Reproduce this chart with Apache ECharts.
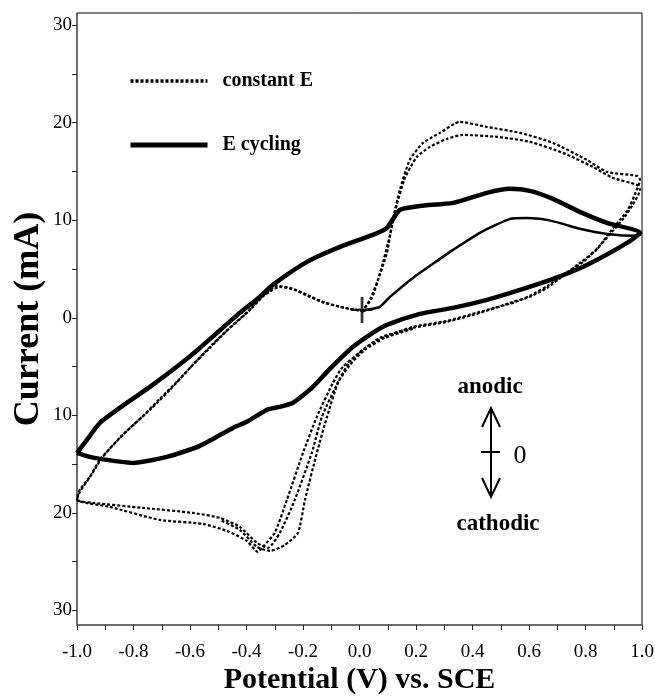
<!DOCTYPE html>
<html>
<head>
<meta charset="utf-8">
<script src="https://cdn.jsdelivr.net/npm/echarts@6/dist/echarts.min.js"></script>
<style>html,body{margin:0;padding:0;background:#fff}#c{width:655px;height:696px}</style>
</head>
<body>
<div id="c"></div>
<script>
// ---- Data (Potential V, Current mA) ----
const xTickLabels = [-1.0, -0.8, -0.6, -0.4, -0.2, 0.0, 0.2, 0.4, 0.6, 0.8, 1.0];
const yTickValues = [-30, -25, -20, -15, -10, -5, 0, 5, 10, 15, 20, 25, 30];
const yLabelValues = [-30, -20, -10, 0, 10, 20, 30];

const constantE_cycle1 = [
  [0.008,0.61],[0.037,1.84],[0.065,3.88],[0.097,6.65],[0.118,10.04],[0.143,13.12],[0.178,16.19],
  [0.225,17.93],[0.285,18.96],[0.355,20.09],[0.451,19.57],[0.568,18.96],[0.685,17.93],[0.805,16.19],
  [0.876,14.96],[0.982,14.55],[0.993,14.14],[0.974,12.60],[0.950,11.06],[0.922,10.04],[0.887,8.81],
  [0.839,6.96],[0.780,5.63],[0.720,4.30],[0.664,3.07],[0.603,2.15],[0.543,1.63],[0.426,0.50],
  [0.309,-0.42],[0.189,-1.04],[0.072,-2.06],[-0.009,-3.80],[-0.059,-5.03],[-0.094,-6.67],
  [-0.151,-10.16],[-0.200,-13.85],[-0.257,-18.67],[-0.300,-22.05],[-0.342,-23.49],[-0.360,-24.00],
  [-0.399,-22.88],[-0.470,-21.85],[-0.555,-21.13],[-0.707,-20.72],[-0.884,-19.39],[-1.000,-18.67],
  [-0.990,-17.64],[-0.955,-16.31],[-0.919,-14.57],[-0.849,-12.31],[-0.766,-10.06],[-0.707,-8.31],
  [-0.643,-6.47],[-0.590,-4.83],[-0.530,-3.09],[-0.470,-1.34],[-0.399,0.50],[-0.346,2.15],
  [-0.292,3.27],[-0.246,3.07],[-0.186,2.35],[-0.130,1.63],[-0.069,1.12],[-0.034,0.91],[0.008,0.71]
];
const constantE_cycle2 = [
  [0.008,0.61],[0.044,2.04],[0.076,4.91],[0.108,8.50],[0.132,11.58],[0.161,14.34],[0.203,16.50],
  [0.249,17.52],[0.309,18.34],[0.366,18.75],[0.487,18.55],[0.603,18.04],[0.720,16.91],[0.826,15.47],
  [0.897,14.34],[0.982,13.63],[0.993,13.12],[0.967,11.58],[0.936,10.24],[0.894,8.81],[0.843,7.16],
  [0.792,5.73],[0.727,4.50],[0.665,3.27],[0.603,2.25],[0.543,1.53],[0.426,0.61],[0.309,-0.32],
  [0.189,-0.93],[0.090,-1.96],[0.019,-3.09],[-0.034,-4.52],[-0.069,-6.17],[-0.133,-10.16],
  [-0.169,-13.85],[-0.229,-18.67],[-0.282,-22.05],[-0.324,-23.59],[-0.363,-23.08],[-0.424,-21.44],
  [-0.494,-20.52],[-0.590,-20.01],[-0.766,-19.49],[-0.944,-18.98],[-1.000,-18.67],
  [-0.990,-17.85],[-0.947,-16.01],[-0.909,-14.26],[-0.831,-11.80],[-0.742,-9.44],[-0.671,-7.39],
  [-0.600,-5.14],[-0.519,-2.68],[-0.448,-0.73],[-0.388,0.81],[-0.335,2.35],[-0.282,3.17],
  [-0.229,2.86],[-0.176,2.15],[-0.123,1.53],[-0.052,1.02],[0.008,0.71]
];
const constantE_cycle3 = [
  [0.189,-1.14],[0.090,-2.06],[0.019,-3.29],[-0.034,-4.83],[-0.076,-6.67],[-0.115,-10.16],
  [-0.151,-13.85],[-0.193,-18.67],[-0.218,-22.05],[-0.264,-23.29],[-0.317,-23.90],[-0.363,-23.49],
  [-0.424,-21.74],[-0.494,-20.72]
];
const eCycling_steady = [
  [-1.000,-13.85],[-0.965,-12.52],[-0.919,-10.78],[-0.824,-8.73],[-0.742,-7.09],[-0.647,-5.03],
  [-0.565,-3.09],[-0.424,0.50],[-0.353,2.14],[-0.307,3.37],[-0.186,5.73],[-0.069,7.27],[0.047,8.50],
  [0.097,9.22],[0.143,11.06],[0.214,11.47],[0.331,11.78],[0.451,12.81],[0.533,13.22],[0.603,13.01],
  [0.685,12.19],[0.780,10.86],[0.876,9.73],[0.993,8.71],
  [0.947,7.68],[0.805,5.42],[0.685,3.99],[0.568,2.86],[0.451,1.84],[0.331,1.02],[0.214,0.40],
  [0.097,-0.73],[0.047,-1.55],[-0.023,-2.98],[-0.069,-4.21],[-0.105,-5.24],[-0.165,-7.09],
  [-0.211,-8.21],[-0.236,-8.73],[-0.282,-9.14],[-0.328,-9.44],[-0.399,-10.67],[-0.448,-11.29],
  [-0.565,-13.13],[-0.682,-14.26],[-0.802,-14.88],[-0.894,-14.57],[-0.955,-14.26],[-1.000,-13.85]
];
const eCycling_first = [
  [0.008,0.61],[0.026,0.81],[0.072,1.12],[0.108,2.14],[0.189,4.09],[0.285,6.04],[0.331,6.96],
  [0.426,8.71],[0.533,10.14],[0.593,10.24],[0.664,10.04],[0.720,9.63],[0.780,9.12],[0.876,8.60],
  [0.982,8.40],[0.997,8.60]
];
const startPoint = [[0.008,0.81]];

const serif = '"Liberation Serif","Times New Roman",serif';
const dotted = {color:'#000', width:2.2, type:[3,2]};

const chart = echarts.init(document.getElementById('c'), null, {renderer:'canvas'});
chart.setOption({
  animation:false,
  backgroundColor:'#fff',
  grid:{left:77, right:13, top:13, bottom:71, show:true, borderColor:'#000', borderWidth:1,
        containLabel:false, outerBoundsMode:'none'},
  legend:{
    orient:'vertical', left:123, top:66, itemWidth:77, itemHeight:20, itemGap:44,
    itemStyle:{opacity:0, borderWidth:0},
    textStyle:{fontFamily:serif, fontWeight:'bold', fontSize:20, color:'#000', padding:[0,0,0,10]},
    data:[
      {name:'constant E', lineStyle:{width:3.5}},
      {name:'E cycling', lineStyle:{width:5}}
    ],
    selectedMode:false
  },
  xAxis:{
    type:'value', min:-1, max:1, interval:0.2,
    axisLine:{show:true, onZero:false, lineStyle:{color:'#666', width:1.5}},
    axisTick:{show:true, length:5, lineStyle:{color:'#222'}},
    minorTick:{show:true, splitNumber:2, length:5, lineStyle:{color:'#222'}},
    splitLine:{show:false},
    axisLabel:{fontFamily:serif, fontSize:19, color:'#000', margin:18,
      formatter:v=>{ const m = xTickLabels.find(t=>Math.abs(t-v)<1e-6); return (m===undefined? v : m).toFixed(1);} },
    name:'Potential (V) vs. SCE', nameLocation:'middle', nameGap:40, nameMoveOverlap:false,
    nameTextStyle:{fontFamily:serif, fontWeight:'bold', fontSize:30, color:'#000'}
  },
  yAxis:{
    type:'value', min:-31.5, max:31.25,
    axisLine:{show:true, onZero:false, lineStyle:{color:'#666', width:1.5}},
    axisTick:{show:true, length:5, customValues:yTickValues, lineStyle:{color:'#222'}},
    splitLine:{show:false},
    axisLabel:{fontFamily:serif, fontSize:19, color:'#000', margin:5, customValues:yLabelValues,
      formatter:v=>String(Math.abs(Math.round(v)))},
    name:'Current (mA)', nameLocation:'middle', nameGap:30, nameRotate:90, nameMoveOverlap:false,
    nameTextStyle:{fontFamily:serif, fontWeight:'bold', fontSize:36, color:'#000'}
  },
  series:[
    {name:'constant E', type:'line', data:constantE_cycle1, symbol:'none', smooth:0.2, lineStyle:dotted, itemStyle:{color:'#000'}, z:3},
    {name:'constant E', type:'line', data:constantE_cycle2, symbol:'none', smooth:0.2, lineStyle:dotted, itemStyle:{color:'#000'}, z:3},
    {name:'constant E', type:'line', data:constantE_cycle3, symbol:'none', smooth:0.2, lineStyle:dotted, itemStyle:{color:'#000'}, z:3},
    {name:'E cycling', type:'line', data:eCycling_steady, symbol:'none', smooth:0.2, lineStyle:{color:'#000', width:4.5}, itemStyle:{color:'#000'}, z:4},
    {name:'E cycling', type:'line', data:eCycling_first, symbol:'none', smooth:0.2, lineStyle:{color:'#000', width:2.5}, itemStyle:{color:'#000'}, z:4},
    {name:'start', type:'scatter', data:startPoint, symbol:'path://M9,0H11.5V26H9ZM0,11.5H20V14H0Z', symbolSize:[22,26], itemStyle:{color:'#000'}, z:5}
  ],
  graphic:[
    {type:'text', x:490, y:387, style:{text:'anodic', fontFamily:serif, fontWeight:'bold', fontSize:23, fill:'#000', align:'center', verticalAlign:'middle'}},
    {type:'polyline', shape:{points:[[491,409],[491,497]]}, style:{stroke:'#000', lineWidth:2, fill:null}},
    {type:'polyline', shape:{points:[[482,427],[491,408],[500,427]]}, style:{stroke:'#000', lineWidth:2, fill:null}},
    {type:'polyline', shape:{points:[[482,478],[491,497],[500,478]]}, style:{stroke:'#000', lineWidth:2, fill:null}},
    {type:'polyline', shape:{points:[[481,452],[500,452]]}, style:{stroke:'#000', lineWidth:2, fill:null}},
    {type:'text', x:520, y:456, style:{text:'0', fontFamily:serif, fontSize:26, fill:'#000', align:'center', verticalAlign:'middle'}},
    {type:'text', x:498, y:524, style:{text:'cathodic', fontFamily:serif, fontWeight:'bold', fontSize:23, fill:'#000', align:'center', verticalAlign:'middle'}}
  ]
});
</script>
</body>
</html>
